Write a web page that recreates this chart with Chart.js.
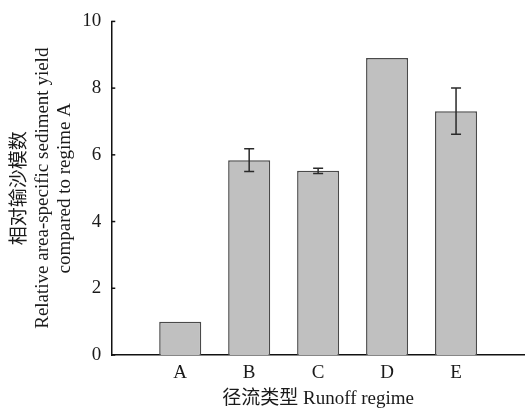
<!DOCTYPE html>
<html>
<head>
<meta charset="utf-8">
<script src="https://cdn.jsdelivr.net/npm/chart.js@4"></script>
<style>
  html, body { margin: 0; padding: 0; background: #ffffff; }
  #wrap { width: 525px; height: 409px; }
</style>
</head>
<body>
<div id="wrap"><canvas id="c" width="525" height="409"></canvas></div>
<script>
// ---- data ----
const categories = ['A', 'B', 'C', 'D', 'E'];
const values = [1.0, 5.84, 5.52, 8.9, 7.31];
const errors = [0, 0.34, 0.08, 0, 0.69];
const yTicks = [0, 2, 4, 6, 8, 10];
const yTitle = ['相对输沙模数', 'Relative area-specific sediment yield', 'compared to regime A'];
const xTitle = '径流类型 Runoff regime';

const FONT = "'Liberation Serif', 'Noto Sans CJK SC', serif";

const points = values.map((v, i) => ({ x: i + 1, y: v }));

const errorBarPlugin = {
  id: 'errorBars',
  afterDatasetsDraw(chart) {
    const ctx = chart.ctx;
    const xs = chart.scales.x, ys = chart.scales.y;
    ctx.save();
    ctx.strokeStyle = '#2a2a2a';
    ctx.lineWidth = 1.5;
    values.forEach((v, i) => {
      const e = errors[i];
      if (!e) return;
      const px = xs.getPixelForValue(i + 1);
      const top = ys.getPixelForValue(v + e);
      const bot = ys.getPixelForValue(v - e);
      const cap = 5;
      ctx.beginPath();
      ctx.moveTo(px, top); ctx.lineTo(px, bot);
      ctx.moveTo(px - cap, top); ctx.lineTo(px + cap, top);
      ctx.moveTo(px - cap, bot); ctx.lineTo(px + cap, bot);
      ctx.stroke();
    });
    ctx.restore();
  }
};

const innerTicksPlugin = {
  id: 'innerTicks',
  afterDraw(chart) {
    const ctx = chart.ctx;
    const ys = chart.scales.y;
    const x0 = chart.chartArea.left;
    ctx.save();
    ctx.strokeStyle = '#111';
    ctx.lineWidth = 1.5;
    yTicks.forEach(t => {
      const py = ys.getPixelForValue(t);
      ctx.beginPath();
      ctx.moveTo(x0, py); ctx.lineTo(x0 + 4, py);
      ctx.stroke();
    });
    ctx.restore();
  }
};

new Chart(document.getElementById('c'), {
  type: 'bar',
  data: {
    datasets: [{
      data: points,
      backgroundColor: '#c0c0c0',
      borderColor: '#4a4a4a',
      borderWidth: 1.5,
      categoryPercentage: 1,
      barPercentage: 0.61
    }]
  },
  plugins: [errorBarPlugin, innerTicksPlugin],
  options: {
    responsive: false,
    animation: false,
    layout: { padding: { top: 10, left: 9, right: 0, bottom: 0 } },
    plugins: { legend: { display: false }, tooltip: { enabled: false } },
    scales: {
      x: {
        type: 'linear',
        offset: false,
        min: 0, max: 6,
        grid: { display: false, drawTicks: false },
        border: { display: true, color: '#111', width: 1.5 },
        afterBuildTicks(scale) {
          scale.ticks = categories.map((c, i) => ({ value: i + 1 }));
        },
        ticks: {
          autoSkip: false,
          maxRotation: 0,
          padding: 9,
          color: '#1a1a1a',
          font: { family: FONT, size: 19, lineHeight: 1.0 },
          callback: (v) => categories[v - 1] || ''
        },
        title: {
          display: true,
          text: xTitle,
          color: '#1a1a1a',
          font: { family: FONT, size: 19, lineHeight: 1.0 },
          padding: { top: -2, bottom: 0 }
        }
      },
      y: {
        min: 0, max: 10,
        grid: { display: false, drawTicks: false },
        border: { display: true, color: '#111', width: 1.5 },
        afterBuildTicks(scale) {
          scale.ticks = yTicks.map(v => ({ value: v }));
        },
        ticks: {
          padding: 10,
          color: '#1a1a1a',
          font: { family: FONT, size: 19 }
        },
        title: {
          display: true,
          text: yTitle,
          color: '#1a1a1a',
          font: { family: FONT, size: 19, lineHeight: 1.18 },
          padding: { top: 0, bottom: -4 }
        }
      }
    }
  }
});
</script>
</body>
</html>
